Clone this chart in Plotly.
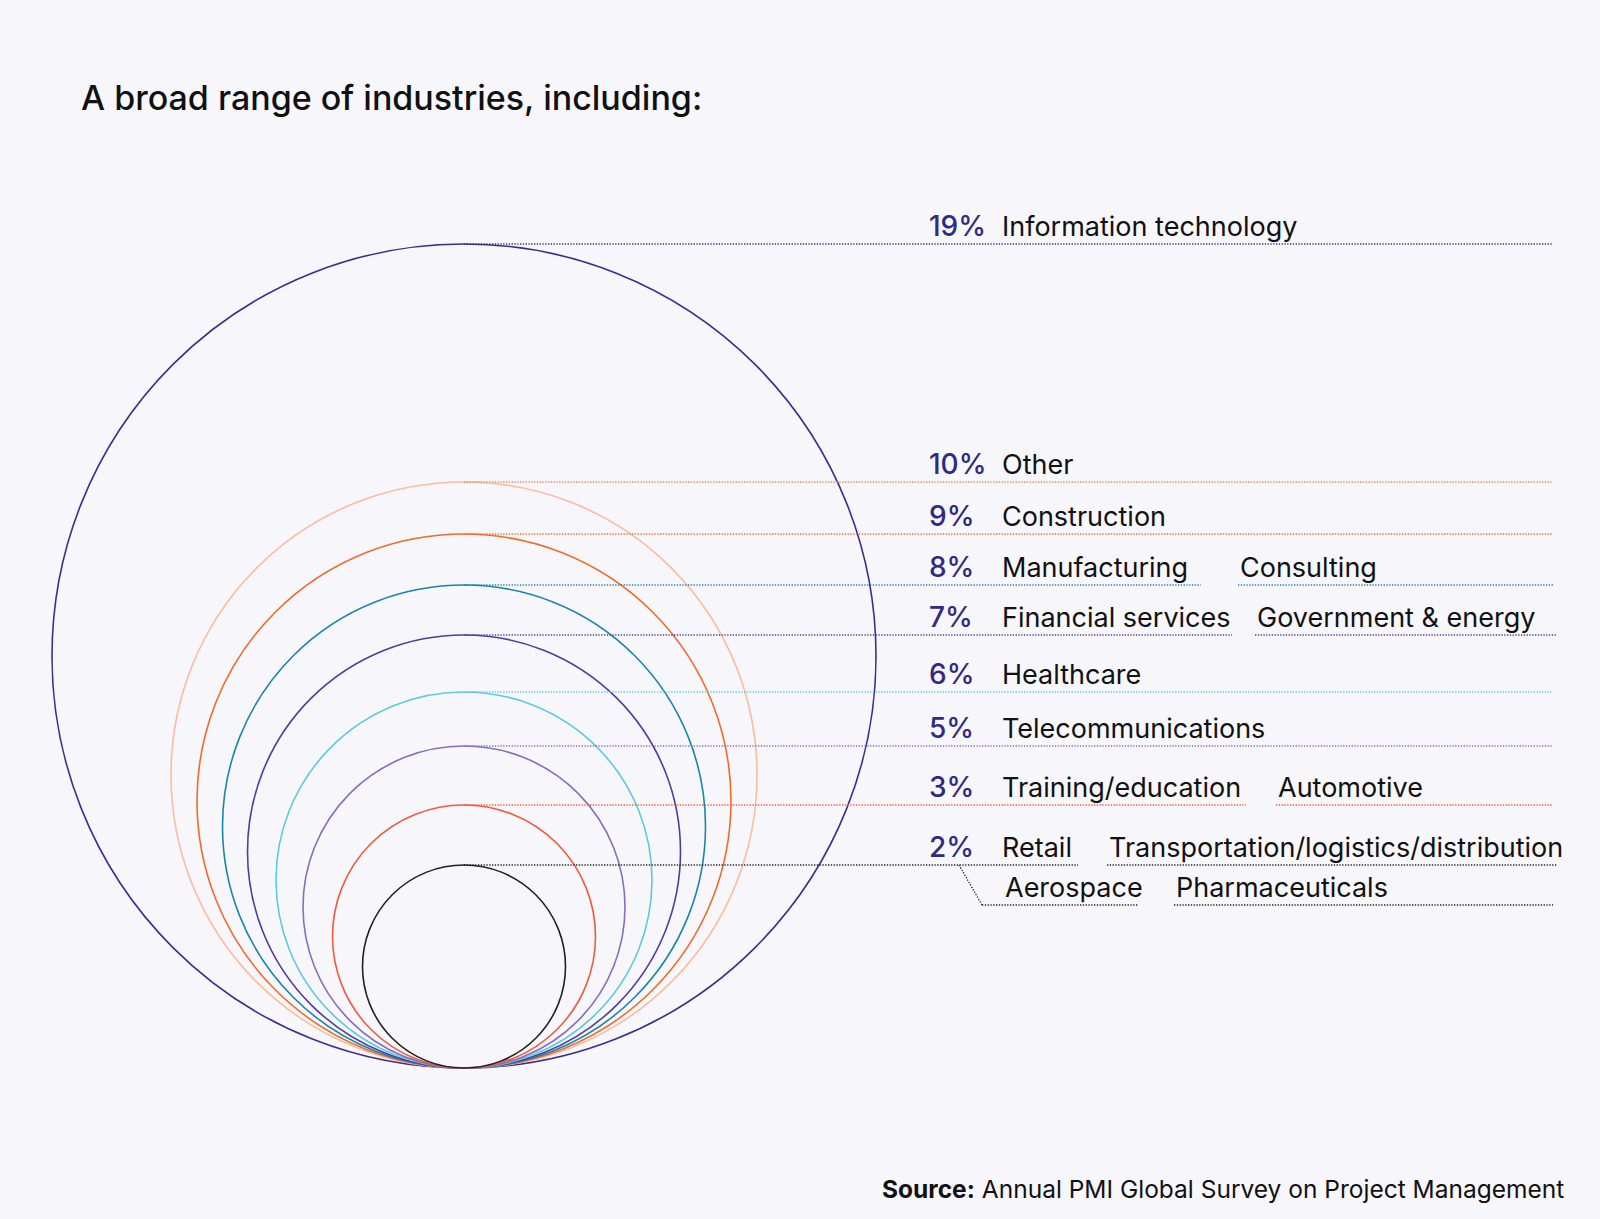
import plotly.graph_objects as go

# ---------------- data ----------------
PCT_VALUES = [19, 10, 9, 8, 7, 6, 5, 3, 2]
ROW_LABELS = [
    ["Information technology"],
    ["Other"],
    ["Construction"],
    ["Manufacturing", "Consulting"],
    ["Financial services", "Government & energy"],
    ["Healthcare"],
    ["Telecommunications"],
    ["Training/education", "Automotive"],
    ["Retail", "Transportation/logistics/distribution"],
]
EXTRA_LABELS_2PCT = ["Aerospace", "Pharmaceuticals"]
TITLE = "A broad range of industries, including:"
SOURCE_BOLD = "Source:"
SOURCE_TEXT = "Annual PMI Global Survey on Project Management"

# ---------------- layout / style ----------------
W, H = 1600, 1219
BG = "#f7f6fb"
CX, BASE_Y = 464, 1068
ROW_Y = [244, 482, 534, 585, 635, 692, 746, 805, 865]
SUB_ROW_Y = 905
PCT_X = 927
LINE_END = 1553
# (label x, underline start, underline end) for each label in each row
LABEL_POS = [
    [(1000, None, LINE_END)],
    [(1000, None, LINE_END)],
    [(1000, None, LINE_END)],
    [(1000, None, 1201), (1238, 1238, LINE_END)],
    [(1000, None, 1232), (1255, 1255, 1556)],
    [(1000, None, LINE_END)],
    [(1000, None, LINE_END)],
    [(1000, None, 1246), (1276, 1276, LINE_END)],
    [(1000, None, 1078), (1107, 1107, 1557)],
]
SUB_POS = [(1003, 982, 1138), (1174, 1174, LINE_END)]
DIAG_START_X, DIAG_END_X = 959, 982

CIRCLE_COLORS = ["#3a2f8d", "#fbbc9f", "#f26a27", "#1786ab", "#4f3c9f",
                 "#5ccbde", "#8a6cbd", "#ef5a3c", "#222222"]
LEADER_COLORS = ["#3a2f8d", "#f5844f", "#f26a27", "#1786ab", "#4f3c9f",
                 "#5ccbde", "#8a6cbd", "#ef5a3c", "#222222"]
PCT_COLOR = "#2f2a84"
TEXT_COLOR = "#111111"
FONT = "Inter"
LABEL_SIZE = 27
PCT_SIZE = 28
DOT = "1.3px,1.5px"
TEXT_OFFSET = 18

fig = go.Figure()
shapes = []
annotations = []

# circles (biggest first)
for i, v in enumerate(PCT_VALUES):
    top = ROW_Y[i]
    d = BASE_Y - top
    shapes.append(dict(type="circle", xref="x", yref="y",
                       x0=CX - d / 2, x1=CX + d / 2, y0=top, y1=BASE_Y,
                       line=dict(color=CIRCLE_COLORS[i], width=1.6),
                       fillcolor="rgba(0,0,0,0)", layer="above"))

# leader lines and labels
for i, v in enumerate(PCT_VALUES):
    y = ROW_Y[i]
    col = LEADER_COLORS[i]
    annotations.append(dict(x=PCT_X, y=y - TEXT_OFFSET, xref="x", yref="y",
                            text=f"{v}%", showarrow=False, xanchor="left", yanchor="middle",
                            font=dict(family=FONT, size=PCT_SIZE, color=PCT_COLOR, weight=500)))
    for lab, (lx, x0, x1) in zip(ROW_LABELS[i], LABEL_POS[i]):
        start = CX if x0 is None else x0
        shapes.append(dict(type="line", xref="x", yref="y", x0=start, x1=x1, y0=y, y1=y,
                           line=dict(color=col, width=1.3, dash=DOT)))
        annotations.append(dict(x=lx, y=y - TEXT_OFFSET, xref="x", yref="y", text=lab,
                                showarrow=False, xanchor="left", yanchor="middle",
                                font=dict(family=FONT, size=LABEL_SIZE, color=TEXT_COLOR)))

# second line of the 2% row
col2 = LEADER_COLORS[-1]
shapes.append(dict(type="line", xref="x", yref="y", x0=DIAG_START_X, x1=DIAG_END_X,
                   y0=ROW_Y[-1], y1=SUB_ROW_Y, line=dict(color=col2, width=1.3, dash=DOT)))
for lab, (lx, x0, x1) in zip(EXTRA_LABELS_2PCT, SUB_POS):
    shapes.append(dict(type="line", xref="x", yref="y", x0=x0, x1=x1,
                       y0=SUB_ROW_Y, y1=SUB_ROW_Y, line=dict(color=col2, width=1.3, dash=DOT)))
    annotations.append(dict(x=lx, y=SUB_ROW_Y - TEXT_OFFSET, xref="x", yref="y", text=lab,
                            showarrow=False, xanchor="left", yanchor="middle",
                            font=dict(family=FONT, size=LABEL_SIZE, color=TEXT_COLOR)))

# title and source
annotations.append(dict(x=79, y=97, xref="x", yref="y", text=TITLE, showarrow=False,
                        xanchor="left", yanchor="middle",
                        font=dict(family=FONT, size=34, color="#111111", weight=500)))
annotations.append(dict(x=1566, y=1189, xref="x", yref="y",
                        text=f"<b>{SOURCE_BOLD}</b> {SOURCE_TEXT}", showarrow=False,
                        xanchor="right", yanchor="middle",
                        font=dict(family=FONT, size=24.5, color="#111111")))

fig.update_layout(
    width=W, height=H, margin=dict(l=0, r=0, t=0, b=0),
    paper_bgcolor=BG, plot_bgcolor=BG, showlegend=False,
    xaxis=dict(range=[0, W], visible=False, fixedrange=True),
    yaxis=dict(range=[H, 0], visible=False, fixedrange=True),
    shapes=shapes, annotations=annotations,
)
fig.write_html("out.html", config={"displayModeBar": False},
               post_script="document.body.style.margin='0';document.body.style.overflow='hidden';")
